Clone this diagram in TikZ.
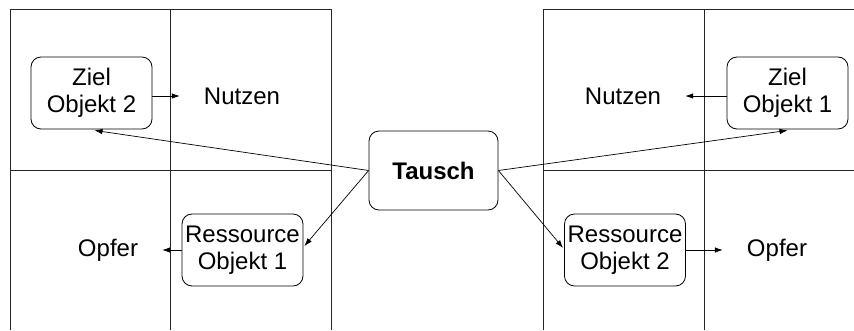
\documentclass[tikz,border=0pt]{standalone}
\usepackage{fontspec}
\setmainfont{Liberation Sans}
\usetikzlibrary{arrows.meta,calc}
\begin{document}
\begin{tikzpicture}[x=1pt,y=-1pt,
  grid/.style={line width=0.8pt,draw=black!85},
  obj/.style={draw,rounded corners=10pt,line width=0.8pt,minimum width=121pt,minimum height=72pt,inner sep=0pt,align=center,font=\fontsize{24}{27}\selectfont},
  lbl/.style={font=\fontsize{24}{27}\selectfont,inner sep=0pt},
  arr/.style={-{Latex[length=8pt,width=5.5pt]},line width=0.7pt}]
\useasboundingbox (0,0) rectangle (854,330);
% left grid
\draw[grid] (10,330) -- (10,9) -- (331,9) -- (331,330);
\draw[grid] (170,9) -- (170,330);
\draw[grid] (10,170) -- (331,170);
% right grid
\draw[grid] (543,330) -- (543,9) -- (854,9);
\draw[grid] (704,9) -- (704,330);
\draw[grid] (543,170) -- (854,170);
% nodes
\node[obj] (z2) at (91.5,93) {Ziel\\Objekt 2};
\node[lbl] (n1) at (242,96) {Nutzen};
\node[obj] (r1) at (242.5,250) {Ressource\\Objekt 1};
\node[lbl] (o1) at (108,250) {Opfer};
\node[obj,minimum width=129pt,minimum height=79pt,font=\fontsize{24}{27}\selectfont\bfseries] (t) at (433.5,170.5) {Tausch};
\node[obj] (z1) at (787.5,93) {Ziel\\Objekt 1};
\node[lbl] (n2) at (623,96) {Nutzen};
\node[obj] (r2) at (625,250) {Ressource\\Objekt 2};
\node[lbl] (o2) at (777,250) {Opfer};
% connectors
\draw[arr] (z2.east|-n1) -- ($(n1.west)+(-24,0)$);
\draw[arr] (r1.west) -- ($(o1.east)+(24,0)$);
\draw[arr] (z1.west|-n2) -- ($(n2.east)+(24,0)$);
\draw[arr] (r2.east) -- ($(o2.west)+(-24,0)$);
\draw[arr] (t.west) -- ($(z2.south)+(3,1)$);
\draw[arr] (t.west) -- ($(r1.east)+(1,-4)$);
\draw[arr] (t.east) -- ($(z1.south)+(0,1)$);
\draw[arr] (t.east) -- ($(r2.west)+(-1,-2)$);
\end{tikzpicture}
\end{document}
